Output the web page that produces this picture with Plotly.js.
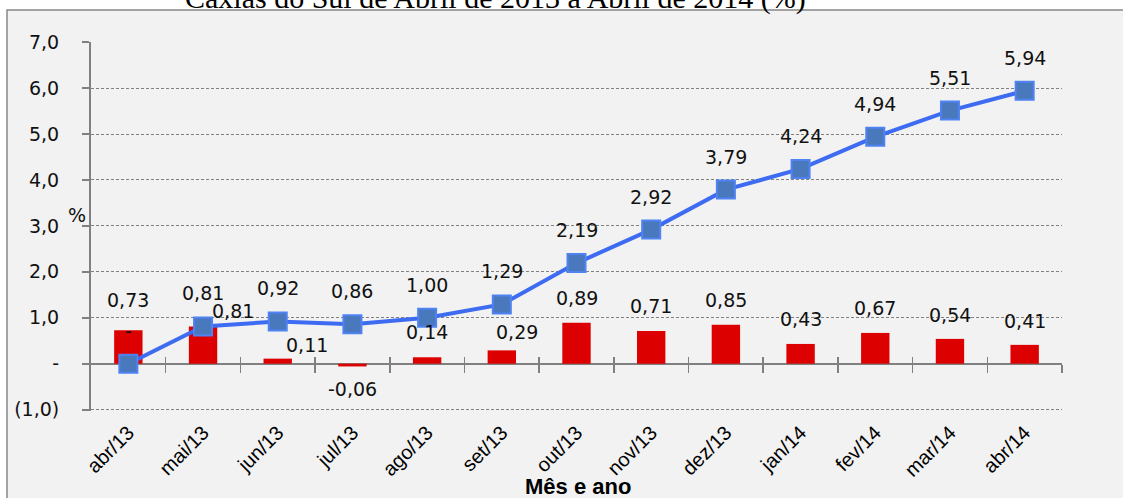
<!DOCTYPE html>
<html><head><meta charset="utf-8">
<script src="https://cdn.plot.ly/plotly-3.0.1.min.js"></script>
<style>html,body{margin:0;padding:0;background:#fff}#chart{width:1123px;height:498px}</style>
</head><body><div id="chart"></div>
<script>
const months = ['abr/13','mai/13','jun/13','jul/13','ago/13','set/13','out/13','nov/13','dez/13','jan/14','fev/14','mar/14','abr/14'];
const monthly = [0.73,0.81,0.11,-0.06,0.14,0.29,0.89,0.71,0.85,0.43,0.67,0.54,0.41];
const cumulative = [0.00,0.81,0.92,0.86,1.00,1.29,2.19,2.92,3.79,4.24,4.94,5.51,5.94];
const yTickVals = [-1,0,1,2,3,4,5,6,7];
const yTickText = ['(1,0)','-','1,0','2,0','3,0','4,0','5,0','6,0','7,0'];
const titleText = 'Caxias do Sul de Abril de 2013 a Abril de 2014 (%)';
const xTitle = 'Mês e ano';
const yTitle = '%';

// label offsets (px) — styling only
const barLabelDx = [0,30,29,0,0,15,0,0,0,0,0,0,0];
const barLabelDy = [30,15,14,-23,25,18,25,25,25,25,25,24,24];
const lineLabelDy = 33;

const fmt = v => v === 0 ? '-' : v.toFixed(2).replace('.', ',');
const labelFont = {family:'DejaVu Sans, Verdana, sans-serif', size:19, color:'#111'};

const bars = {type:'bar', x:months, y:monthly, width:0.38,
  marker:{color:'#dd0000', line:{width:0}}, hoverinfo:'skip', showlegend:false};
const line = {type:'scatter', mode:'lines+markers', x:months, y:cumulative,
  line:{color:'#3d6bf2', width:4},
  marker:{symbol:'square', size:18, color:'#4a78bc', line:{color:'#4f82f2', width:2}},
  hoverinfo:'skip', showlegend:false};

const annotations = [];
months.forEach((m,i)=>{
  annotations.push({x:m, y:monthly[i], xref:'x', yref:'y', text:fmt(monthly[i]), showarrow:false,
    xshift:barLabelDx[i], yshift:barLabelDy[i], yanchor:'middle', font:labelFont});
  annotations.push({x:m, y:cumulative[i], xref:'x', yref:'y', text:fmt(cumulative[i]), showarrow:false,
    yshift:lineLabelDy, yanchor:'middle', font:labelFont});
});
annotations.push({text:titleText, xref:'paper', yref:'paper', x:0.417, y:1.069, xanchor:'center', yanchor:'bottom',
  showarrow:false, font:{family:'Liberation Serif, Times New Roman, serif', size:30, color:'#000'}});
annotations.push({text:yTitle, xref:'paper', yref:'paper', x:-0.0144, y:0.53, xanchor:'center', yanchor:'middle',
  showarrow:false, font:{family:'DejaVu Sans, sans-serif', size:19, color:'#111'}});
annotations.push({text:'<b>'+xTitle+'</b>', xref:'paper', yref:'paper', x:0.5015, y:-0.204, xanchor:'center', yanchor:'middle',
  showarrow:false, font:{family:'Liberation Sans Narrow, Liberation Sans, sans-serif', size:22, color:'#000'}});

const boundaries = months.map((m,i)=>i+0.5);
const yLo = yTickVals[0], yHi = yTickVals[yTickVals.length-1];
const padLo = 0.03, padHi = 0.004;
const zeroPos = (0 - (yLo-padLo))/((yHi+padHi)-(yLo-padLo));

const layout = {
  width:1123, height:498,
  margin:{l:91, r:61, t:42, b:87},
  paper_bgcolor:'#ffffff', plot_bgcolor:'rgba(0,0,0,0)',
  xaxis:{type:'category', range:[-0.5, months.length-0.5], showgrid:false, zeroline:false, showline:false,
    ticks:'', tickangle:-45, ticklabelstandoff:5,
    tickfont:{family:'Liberation Sans Narrow, Liberation Sans, sans-serif', size:20, color:'#000'}},
  xaxis2:{overlaying:'x', anchor:'free', position:zeroPos, type:'linear', range:[-0.5, months.length-0.5],
    showgrid:false, zeroline:false, showline:false, showticklabels:false,
    tickmode:'array', tickvals:boundaries, ticks:'outside', ticklen:8, tickwidth:1.5, tickcolor:'#808080'},
  xaxis3:{overlaying:'x', anchor:'free', position:zeroPos, type:'linear', range:[-0.5, months.length-0.5],
    showgrid:false, zeroline:false, showline:false, showticklabels:false,
    tickmode:'array', tickvals:boundaries.slice(0,-1), ticks:'inside', ticklen:7, tickwidth:1.5, tickcolor:'#808080'},
  yaxis:{range:[yLo-padLo, yHi+padHi], tickmode:'array', tickvals:yTickVals, ticktext:yTickText,
    showgrid:true, gridcolor:'#808080', gridwidth:1, griddash:'3px,2px',
    zeroline:true, zerolinecolor:'#808080', zerolinewidth:2,
    showline:true, linecolor:'#808080', linewidth:2,
    ticks:'outside', ticklen:7, tickwidth:2, tickcolor:'#808080', ticklabelstandoff:19,
    tickfont:{family:'DejaVu Sans, Verdana, sans-serif', size:19, color:'#111'}},
  shapes:[{type:'rect', xref:'paper', yref:'paper', x0:-0.0865, x1:1.2, y0:-0.4, y1:1.087,
    fillcolor:'#f2f2f2', line:{color:'#888888', width:1.5}, layer:'below'}],
  annotations:annotations
};
const dummy2 = {type:'scatter', x:[], y:[], xaxis:'x2', yaxis:'y', showlegend:false, hoverinfo:'skip'};
const dummy3 = {type:'scatter', x:[], y:[], xaxis:'x3', yaxis:'y', showlegend:false, hoverinfo:'skip'};
Plotly.newPlot('chart', [bars, line, dummy2, dummy3], layout, {displayModeBar:false, staticPlot:true});
</script></body></html>
